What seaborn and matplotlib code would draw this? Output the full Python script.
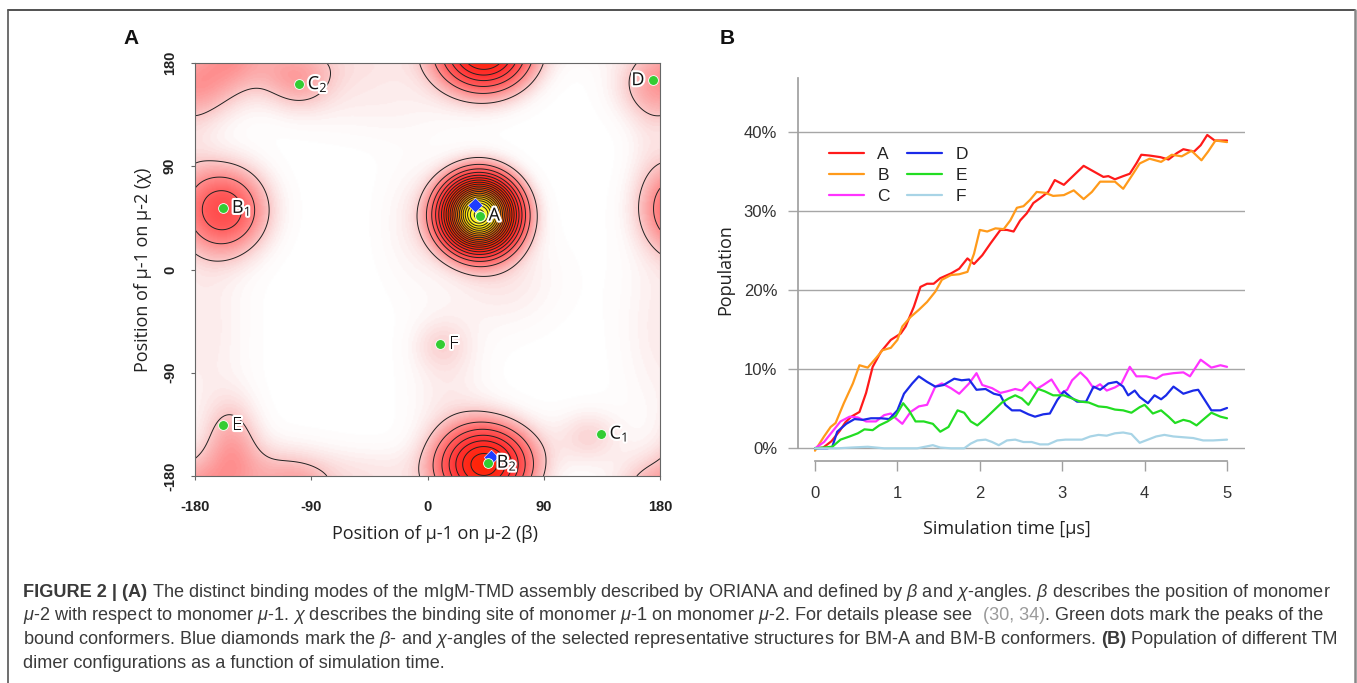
import numpy as np
import pandas as pd
import matplotlib
matplotlib.use("Agg")
import matplotlib.pyplot as plt
import seaborn as sns
from matplotlib.colors import LinearSegmentedColormap
import matplotlib.patheffects as pe
from matplotlib.lines import Line2D

# ---------------- Panel A data: density peaks (beta, chi) ----------------
peak_beta = [40, 44, -158, 180, -125, -100, -152, 10, 125,
             -175, 15, 60, -40, -40, 120, 175, -10]
peak_chi = [48, -170, 52, 161, 180, 163, -150, -66, -145,
            -50, -100, -10, 150, -175, -150, 100, 40]
peak_amp = [1.07, 0.38, 0.18, 0.073, 0.05, 0.045, 0.062, 0.025, 0.025,
            0.025, 0.022, 0.025, 0.02, 0.015, 0.015, 0.02, 0.02]
peak_sbeta = [18, 23, 22, 23, 38, 18, 15, 15, 15,
              25, 22, 30, 45, 30, 25, 15, 20]
peak_schi = [20, 22, 25, 22, 20, 18, 26, 15, 15,
             60, 45, 30, 25, 15, 20, 40, 40]
contour_levels = np.arange(0.05, 1.06, 0.05)

conf_names = ["A", "B1", "B2", "C1", "C2", "D", "E", "F"]
conf_labels = ["A", r"B$\mathregular{_1}$", r"B$\mathregular{_2}$", r"C$\mathregular{_1}$",
               r"C$\mathregular{_2}$", "D", "E", "F"]
conf_beta = [40.3, -158.4, 46.6, 134.0, -99.7, 174.9, -158.4, 9.7]
conf_chi = [47.0, 53.6, -168.5, -143.2, 161.5, 165.0, -135.5, -64.8]
rep_beta = [36.6, 49.4]
rep_chi = [56.6, -163.5]
angle_ticks = [-180, -90, 0, 90, 180]

# ---------------- Panel B data: population (%) vs time (us) ----------------
tA = [0, 0.1, 0.2, 0.3, 0.37, 0.44, 0.54, 0.62, 0.70, 0.80, 0.92, 1.04, 1.10, 1.20, 1.28, 1.36,
      1.44, 1.52, 1.65, 1.75, 1.85, 1.93, 2.03, 2.13, 2.25, 2.33, 2.41, 2.49, 2.57, 2.65, 2.73,
      2.83, 2.91, 3.02, 3.14, 3.26, 3.38, 3.50, 3.56, 3.64, 3.74, 3.82, 3.90, 3.96, 4.06, 4.19,
      4.29, 4.39, 4.47, 4.60, 4.68, 4.76, 4.85, 5.00]
pA = [0, 0.1, 0.9, 2.2, 3.3, 4.0, 4.6, 7.0, 10.3, 12.2, 13.7, 14.5, 15.4, 17.9, 20.4, 20.8,
      20.8, 21.5, 22.1, 22.7, 24.0, 23.3, 24.4, 25.9, 27.6, 27.6, 27.4, 28.8, 29.7, 31.0, 31.6,
      32.4, 33.9, 33.3, 34.5, 35.7, 35.0, 34.3, 34.4, 34.0, 34.4, 34.7, 36.0, 37.1, 37.0, 36.8,
      36.5, 37.3, 37.8, 37.5, 38.3, 39.6, 38.9, 38.9]
tB = [0, 0.11, 0.19, 0.25, 0.35, 0.46, 0.54, 0.64, 0.74, 0.82, 0.92, 1.0, 1.06, 1.16, 1.26,
      1.36, 1.46, 1.54, 1.65, 1.75, 1.85, 1.93, 2.0, 2.09, 2.19, 2.29, 2.37, 2.45, 2.53, 2.61,
      2.69, 2.79, 2.89, 3.02, 3.14, 3.26, 3.36, 3.46, 3.56, 3.64, 3.74, 3.86, 3.94, 4.06, 4.2,
      4.33, 4.45, 4.57, 4.69, 4.77, 4.86, 5.0]
pB = [-0.3, 1.5, 2.7, 3.2, 5.7, 8.2, 10.5, 10.2, 11.4, 12.4, 12.7, 13.7, 15.4, 16.6, 17.5,
      18.5, 19.8, 21.3, 21.9, 22.0, 22.3, 24.6, 27.6, 27.4, 27.8, 27.7, 28.8, 30.4, 30.6, 31.4,
      32.4, 32.3, 31.9, 32.0, 32.6, 31.5, 32.4, 33.7, 33.7, 33.7, 32.8, 34.7, 36.0, 36.6, 36.2,
      37.1, 36.9, 37.6, 36.4, 37.5, 38.9, 38.7]
tC = [0, 0.11, 0.21, 0.31, 0.42, 0.52, 0.62, 0.74, 0.84, 0.92, 0.98, 1.06, 1.16, 1.26, 1.36,
      1.46, 1.54, 1.65, 1.75, 1.87, 1.96, 2.03, 2.15, 2.25, 2.33, 2.43, 2.51, 2.61, 2.69, 2.77,
      2.87, 2.98, 3.06, 3.12, 3.22, 3.30, 3.38, 3.46, 3.54, 3.64, 3.72, 3.82, 3.90, 4.02, 4.14,
      4.22, 4.35, 4.47, 4.55, 4.68, 4.81, 4.92, 5.0]
pC = [0, 0.8, 2.1, 3.4, 4.0, 3.9, 3.4, 3.4, 4.2, 4.4, 3.8, 3.1, 4.6, 5.3, 5.5,
      7.8, 8.2, 7.6, 6.9, 8.2, 9.5, 8.0, 7.6, 7.0, 7.2, 7.5, 7.3, 8.4, 7.5, 8.0,
      8.7, 6.9, 7.4, 8.6, 9.6, 8.8, 7.6, 8.1, 7.3, 7.7, 8.2, 10.3, 9.1, 9.1, 8.8,
      9.3, 9.5, 9.6, 9.1, 11.2, 10.2, 10.5, 10.3]
tD = [0, 0.15, 0.21, 0.27, 0.38, 0.48, 0.58, 0.68, 0.8, 0.9, 1.0, 1.08, 1.18, 1.26, 1.36,
      1.46, 1.56, 1.69, 1.78, 1.87, 1.96, 2.07, 2.17, 2.25, 2.31, 2.39, 2.49, 2.59, 2.67, 2.77,
      2.85, 2.94, 3.02, 3.1, 3.18, 3.29, 3.38, 3.46, 3.56, 3.66, 3.74, 3.80, 3.88, 3.94, 4.04,
      4.12, 4.2, 4.26, 4.35, 4.47, 4.59, 4.65, 4.73, 4.81, 4.92, 5.0]
pD = [0, 0, 0.2, 2.1, 3.1, 3.7, 3.6, 3.8, 3.8, 3.7, 4.8, 6.9, 8.2, 9.1, 8.4,
      7.8, 8.0, 8.8, 8.6, 8.7, 7.4, 7.5, 6.9, 6.7, 5.5, 4.8, 4.8, 4.3, 4.0, 4.3,
      4.4, 6.1, 7.2, 6.5, 5.9, 5.9, 7.8, 7.4, 8.2, 8.4, 7.8, 6.7, 7.3, 6.5, 5.7,
      6.7, 6.2, 6.7, 7.8, 6.9, 7.3, 7.4, 6.1, 4.8, 4.8, 5.1]
tE = [0, 0.21, 0.31, 0.42, 0.52, 0.6, 0.7, 0.78, 0.88, 0.98, 1.07, 1.14, 1.22, 1.32, 1.43,
      1.52, 1.62, 1.73, 1.81, 1.89, 1.97, 2.07, 2.17, 2.27, 2.35, 2.43, 2.51, 2.59, 2.65, 2.71,
      2.79, 2.89, 3.02, 3.12, 3.22, 3.32, 3.44, 3.54, 3.64, 3.74, 3.84, 3.94, 4.0, 4.1, 4.2,
      4.29, 4.37, 4.47, 4.55, 4.63, 4.73, 4.81, 4.92, 5.0]
pE = [0, 0.2, 1.1, 1.5, 1.9, 2.4, 2.3, 2.9, 3.4, 4.1, 5.7, 4.8, 3.4, 3.4, 3.1,
      2.1, 2.7, 4.8, 4.5, 3.4, 2.9, 3.8, 4.8, 5.8, 6.3, 6.7, 6.3, 5.5, 6.5, 7.5,
      7.2, 6.7, 6.7, 6.3, 5.9, 5.8, 5.3, 5.2, 4.9, 4.8, 4.5, 5.2, 5.5, 4.4, 4.8,
      4.0, 3.2, 3.6, 3.4, 2.9, 3.8, 4.5, 4.0, 3.8]
tF = [0, 0.27, 0.44, 0.64, 0.84, 1.04, 1.24, 1.43, 1.52, 1.65, 1.81, 1.89, 1.97, 2.07, 2.15,
      2.23, 2.33, 2.43, 2.53, 2.63, 2.73, 2.83, 2.94, 3.04, 3.14, 3.24, 3.34, 3.44, 3.54, 3.64,
      3.74, 3.84, 3.94, 4.04, 4.14, 4.24, 4.35, 4.47, 4.59, 4.71, 4.83, 5.0]
pF = [0, 0, 0.1, 0.2, 0, 0, 0, 0.4, 0.1, 0, 0, 0.6, 1.0, 1.1, 0.8,
      0.4, 1.0, 1.1, 0.8, 0.8, 0.5, 0.5, 1.0, 1.1, 1.1, 1.1, 1.5, 1.7, 1.6, 1.9,
      2.0, 1.8, 0.7, 1.1, 1.5, 1.7, 1.5, 1.4, 1.3, 1.0, 1.0, 1.1]
series_names = ["A", "B", "C", "D", "E", "F"]
series_colors = ["#ff1a1a", "#ff9a1a", "#ff33ff", "#1a2ae8", "#22dd22", "#a8d4e6"]
pop_ticks = [0, 10, 20, 30, 40]
pop_ticklabels = ["0%", "10%", "20%", "30%", "40%"]
time_ticks = [0, 1, 2, 3, 4, 5]

# ---------------- style ----------------
sns.set_theme(style="white")
plt.rcParams["font.family"] = ["Liberation Sans", "DejaVu Sans"]
plt.rcParams["mathtext.fontset"] = "custom"
plt.rcParams["mathtext.rm"] = "Liberation Sans"
plt.rcParams["mathtext.it"] = "Liberation Sans:italic"
plt.rcParams["mathtext.bf"] = "Liberation Sans:bold"

W, H = 1357, 683
fig = plt.figure(figsize=(W / 100, H / 100), dpi=100)
fig.patch.set_facecolor("white")


def fx(px):
    return px / W


def fy(py):
    return 1 - py / H


LABEL_FONT = ["Open Sans", "DejaVu Sans"]

# ---------------- Panel A ----------------
axA = fig.add_axes([fx(195), fy(476), fx(660) - fx(195), fy(63) - fy(476)])
g = np.linspace(-180, 180, 361)
X, Y = np.meshgrid(g, g)
Z = np.zeros_like(X)
for b, c, a, sx, sy in zip(peak_beta, peak_chi, peak_amp, peak_sbeta, peak_schi):
    dx = (X - b + 180) % 360 - 180
    dy = (Y - c + 180) % 360 - 180
    Z += a * np.exp(-0.5 * ((dx / sx) ** 2 + (dy / sy) ** 2))

zmax = 1.07
stops = [(0, "#ffffff"), (0.01, "#fefafa"), (0.03, "#fce2e2"), (0.06, "#fbb8b8"),
         (0.1, "#ff8a8a"), (0.16, "#ff5858"), (0.25, "#ff3030"), (0.4, "#ff2200"),
         (0.55, "#ff3a00"), (0.68, "#ff7000"), (0.8, "#ffb000"), (0.9, "#ffe600"),
         (1.07, "#ffff40")]
cmap = LinearSegmentedColormap.from_list("dens", [(v / zmax, c) for v, c in stops])
axA.imshow(Z, extent=(-180, 180, -180, 180), origin="lower", cmap=cmap, vmin=0, vmax=zmax,
           aspect="auto", interpolation="bilinear")
axA.contour(X, Y, Z, levels=contour_levels, colors="#222222", linewidths=0.7)
axA.scatter(rep_beta, rep_chi, marker="D", s=55, c="#1f3dff", edgecolors="white",
            linewidths=0.4, zorder=5)
axA.scatter(conf_beta, conf_chi, s=50, c="#33cc33", edgecolors="white", linewidths=0.6,
            zorder=6)
for name, lab, b, c in zip(conf_names, conf_labels, conf_beta, conf_chi):
    off, ha = ((-6.5, "right") if name == "D" else (6.5, "left"))
    axA.annotate(lab, (b, c), xytext=(off, 0), textcoords="offset points", ha=ha,
                 va="center", fontsize=13, family=LABEL_FONT, color="#111111", zorder=7,
                 path_effects=[pe.withStroke(linewidth=3, foreground="white")])
axA.set_xlim(-180, 180)
axA.set_ylim(-180, 180)
axA.set_xticks(angle_ticks)
axA.set_yticks(angle_ticks)
axA.set_xticklabels([str(v) for v in angle_ticks], fontsize=10.5, fontweight="bold",
                    color="#222222")
axA.set_yticklabels([str(v) for v in angle_ticks], fontsize=10.5, fontweight="bold",
                    color="#222222", rotation=90, va="center")
axA.tick_params(axis="both", direction="out", length=3, width=0.8, color="#666666",
                bottom=True, left=True)
axA.tick_params(axis="x", pad=14)
axA.tick_params(axis="y", pad=10)
for sp in axA.spines.values():
    sp.set_color("#666666")
    sp.set_linewidth(0.8)
axA.set_xlabel("Position of μ-1 on μ-2 (β)", fontsize=13, family=LABEL_FONT,
               color="#222222")
axA.xaxis.set_label_coords((435 - 195) / 465, -(525 - 476) / 413)
axA.set_ylabel("Position of μ-1 on μ-2 (χ)", fontsize=13, family=LABEL_FONT,
               color="#222222", labelpad=8)
fig.text(fx(131), fy(39), "A", fontsize=15, fontweight="bold", ha="center", va="center",
         color="#111111")

# ---------------- Panel B ----------------
axB = fig.add_axes([fx(798), fy(461), fx(1245) - fx(798), fy(78) - fy(461)])
frames = []
for name, t, v in zip(series_names, [tA, tB, tC, tD, tE, tF], [pA, pB, pC, pD, pE, pF]):
    frames.append(pd.DataFrame({"t": t, "pop": v, "conf": name}))
df = pd.concat(frames, ignore_index=True)
for ytk in pop_ticks:
    axB.axhline(ytk, color="#a6a6a6", lw=1.0, zorder=0)
sns.lineplot(data=df, x="t", y="pop", hue="conf", hue_order=series_names,
             palette=dict(zip(series_names, series_colors)), estimator=None, lw=1.6,
             legend=False, ax=axB)
axB.set_xlim(-0.206, 5.218)
axB.set_ylim(-1.6, 46.8)
axB.set_xticks(time_ticks)
axB.set_xticklabels([str(v) for v in time_ticks], fontsize=12, color="#333333")
axB.set_yticks(pop_ticks)
axB.set_yticklabels(pop_ticklabels, fontsize=12, color="#333333")
axB.tick_params(axis="x", direction="out", length=7, width=1.0, color="#a0a0a0", pad=11,
                bottom=True)
axB.tick_params(axis="y", direction="out", length=7, width=1.0, color="#a6a6a6", pad=8,
                left=True)
for side in ["top", "right"]:
    axB.spines[side].set_visible(False)
axB.spines["left"].set_color("#a0a0a0")
axB.spines["left"].set_bounds(0, 46.8)
axB.spines["bottom"].set_color("#a0a0a0")
axB.spines["bottom"].set_bounds(0, 5)
axB.set_xlabel("Simulation time [μs]", fontsize=13, family=LABEL_FONT, color="#222222")
axB.xaxis.set_label_coords((1007 - 798) / 447, -(520 - 461) / 383)
axB.set_ylabel("Population", fontsize=13, family=LABEL_FONT, color="#222222", labelpad=7)
handles = [Line2D([], [], color=c, lw=1.6) for c in series_colors]
axB.legend(handles, series_names, ncol=2, loc="upper left", bbox_to_anchor=(0.069, 0.82),
           frameon=False, fontsize=12.5, handlelength=2.0, handletextpad=0.8,
           columnspacing=1.0, labelspacing=0.33, borderaxespad=0, borderpad=0,
           labelcolor="#222222")
fig.text(fx(727), fy(39), "B", fontsize=15, fontweight="bold", ha="center", va="center",
         color="#111111")

# ---------------- frame ----------------
fig.add_artist(Line2D([fx(8), fx(1355)], [fy(10), fy(10)], transform=fig.transFigure,
                      color="#333333", lw=1.2))
fig.add_artist(Line2D([fx(8), fx(8)], [0, fy(10)], transform=fig.transFigure,
                      color="#555555", lw=1.2))
fig.add_artist(Line2D([fx(1355), fx(1355)], [0, fy(10)], transform=fig.transFigure,
                      color="#888888", lw=1.8))

# ---------------- caption ----------------
renderer = fig.canvas.get_renderer()
cap_col = "#3a3a3a"
cite_col = "#9a9a9a"
caption = [
    [("FIGURE 2 | (A)", "bold", cap_col), ("gap", 1), (r"The distinct binding modes of the mIgM-TMD assembly described by ORIANA and defined by $\beta$ and $\chi$-angles. $\beta$ describes the position of monomer", "normal", cap_col)],
    [(r"$\mu$-2 with respect to monomer $\mu$-1. $\chi$ describes the binding site of monomer $\mu$-1 on monomer $\mu$-2. For details please see", "normal", cap_col), ("gap", 2), ("(30, 34)", "normal", cite_col), (". Green dots mark the peaks of the", "normal", cap_col)],
    [(r"bound conformers. Blue diamonds mark the $\beta$- and $\chi$-angles of the selected representative structures for BM-A and BM-B conformers.", "normal", cap_col), ("gap", 1), ("(B)", "bold", cap_col), ("gap", 1), ("Population of different TM", "normal", cap_col)],
    [("dimer configurations as a function of simulation time.", "normal", cap_col)],
]
baselines = [597, 620.5, 644, 667.5]


def draw_line(pieces, y, fs, keep=True):
    tmp = fig.text(0, 0, "x x", fontsize=fs)
    w1 = tmp.get_window_extent(renderer).width
    tmp.set_text("xx")
    w2 = tmp.get_window_extent(renderer).width
    tmp.remove()
    sp = w1 - w2
    x = 23.0
    made = []
    for p in pieces:
        if p[0] == "gap":
            x += p[1] * sp
            continue
        s, wgt, col = p
        t = fig.text(x / W, fy(y), s, fontsize=fs, fontweight=wgt, color=col,
                     ha="left", va="baseline")
        x = t.get_window_extent(renderer).x1
        made.append(t)
    if not keep:
        for t in made:
            t.remove()
    return x


end = draw_line(caption[0], baselines[0], 11, keep=False)
fs_cap = 11 * (1333 - 23) / (end - 23)
for pieces, yb in zip(caption, baselines):
    draw_line(pieces, yb, fs_cap)

fig.savefig("out.png", dpi=100, facecolor="white")
